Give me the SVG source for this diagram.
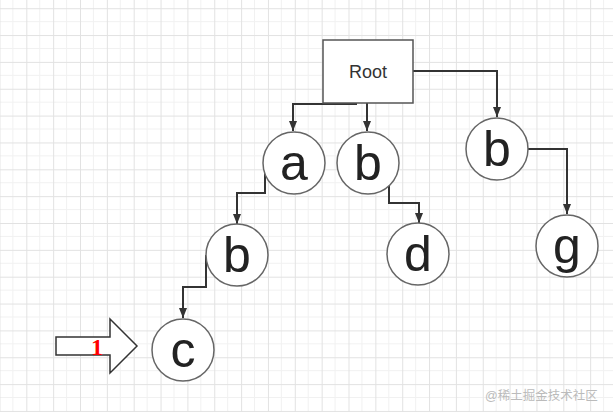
<svg xmlns="http://www.w3.org/2000/svg" width="613" height="412" viewBox="0 0 613 412">
<style>
.node circle{fill:#fff;stroke:#666;stroke-width:1.5}
.node text{font-family:"Liberation Sans","DejaVu Sans",sans-serif;font-size:50px;fill:#222;text-anchor:middle}
.conn path{fill:none;stroke:#333;stroke-width:2}
</style>
<defs>
<pattern id="grid" patternUnits="userSpaceOnUse" x="26.3" y="8.2" width="26.85" height="26.85">
<path d="M13.42,0V26.85M0,13.42H26.85" stroke="#f1f1f1" stroke-width="1" fill="none"/>
<path d="M0.5,0V26.85M0,0.5H26.85" stroke="#e2e2e2" stroke-width="1" fill="none"/>
</pattern>
<marker id="ah" markerUnits="userSpaceOnUse" markerWidth="10" markerHeight="10" viewBox="0 0 10 10" refX="10" refY="5" orient="auto">
<path d="M0,1 L10,5 L0,9 Z" fill="#333"/>
</marker>
</defs>
<rect width="613" height="412" fill="#fff"/>
<rect width="613" height="412" fill="url(#grid)"/>
<g class="conn">
<path d="M357,104 H293 V131" marker-end="url(#ah)"/>
<path d="M367,103 V131" marker-end="url(#ah)"/>
<path d="M413,71 H497 V117" marker-end="url(#ah)"/>
<path d="M528,149 H567 V214" marker-end="url(#ah)"/>
<path d="M389,184 V203 H419 V223" marker-end="url(#ah)"/>
<path d="M265,165 V193 H237 V224" marker-end="url(#ah)"/>
<path d="M206,255 V287 H183 V318" marker-end="url(#ah)"/>
</g>
<g id="root">
<rect x="323" y="40" width="90" height="63" fill="#fff" stroke="#555" stroke-width="1.5"/>
<text x="368" y="78" font-family="Liberation Sans, sans-serif" font-size="18" fill="#333" text-anchor="middle">Root</text>
</g>
<g id="node-a" class="node"><circle cx="294" cy="163" r="31"/><text x="294" y="180">a</text></g>
<g id="node-b1" class="node"><circle cx="368" cy="163" r="31"/><text x="368" y="180">b</text></g>
<g id="node-b2" class="node"><circle cx="497" cy="149" r="31"/><text x="497" y="166">b</text></g>
<g id="node-g" class="node"><circle cx="567" cy="246" r="31"/><text x="567" y="263">g</text></g>
<g id="node-d" class="node"><circle cx="418" cy="254" r="31"/><text x="418" y="271">d</text></g>
<g id="node-b3" class="node"><circle cx="237" cy="255" r="31"/><text x="237" y="272">b</text></g>
<g id="node-c" class="node"><circle cx="183" cy="350" r="31"/><text x="183" y="367">c</text></g>
<g id="pointer">
<path d="M56,337 L110,337 L110,319 L137,346 L110,373 L110,355 L56,355 Z" fill="#fff" stroke="#333" stroke-width="1.5"/>
<text x="97" y="355" font-family="Liberation Serif, serif" font-weight="bold" font-size="24" fill="#f00" text-anchor="middle">1</text>
</g>
<text x="485" y="400" font-family="Liberation Sans, Noto Sans CJK SC, sans-serif" font-size="12.5" fill="#bbb">@稀土掘金技术社区</text>
</svg>
